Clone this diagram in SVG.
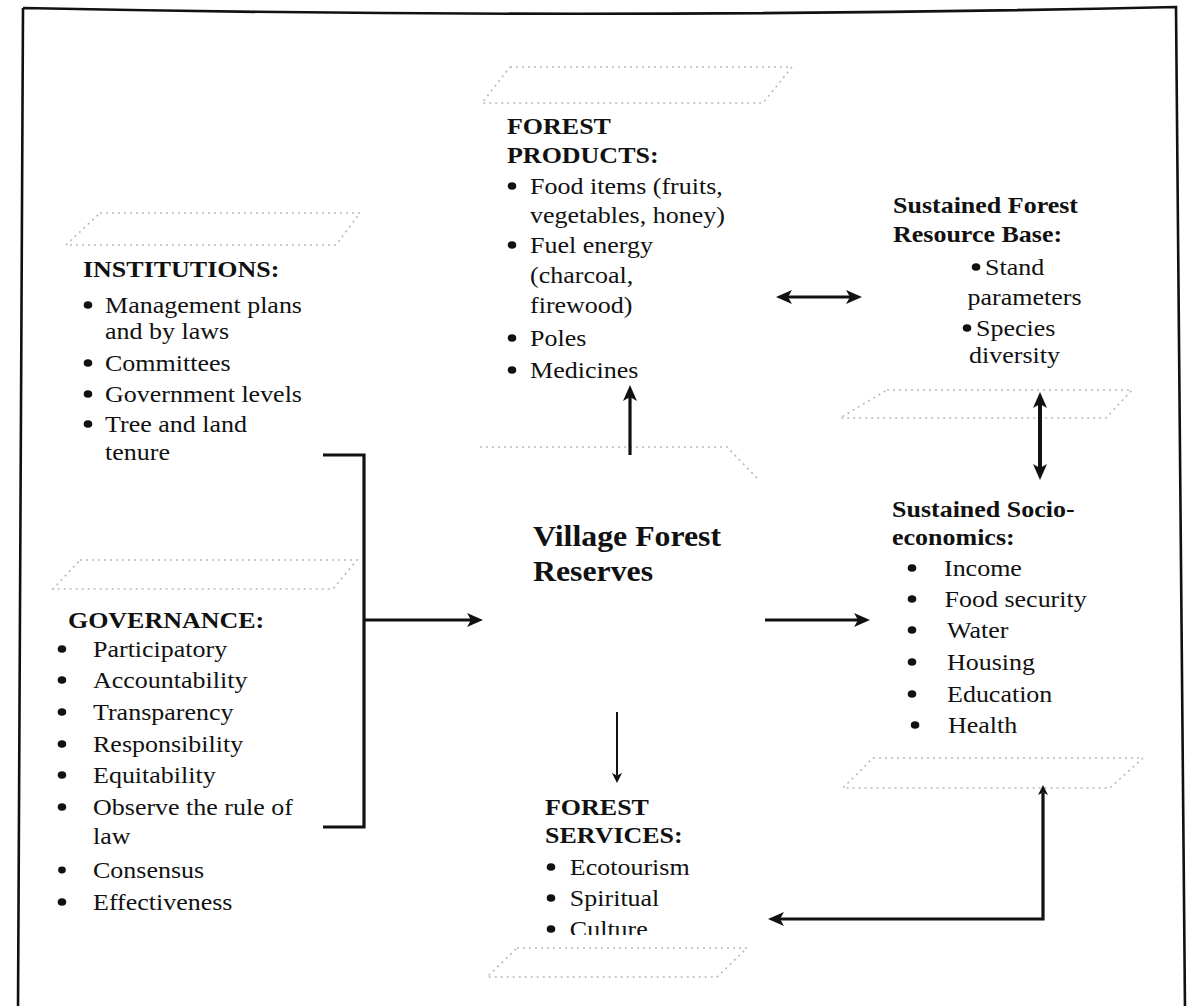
<svg xmlns="http://www.w3.org/2000/svg" width="1187" height="1006" viewBox="0 0 1187 1006">
<style>
.t{font-family:"Liberation Serif","Times New Roman",serif;font-size:23px;fill:#111}
.h{font-weight:bold}
.big{font-size:30px;font-weight:bold}
.b{fill:#111}
.conn{stroke:#111;fill:none;stroke-width:3.2}
.thin{stroke:#111;fill:none;stroke-width:2}
.faint{stroke:#9a9a9a;stroke-width:1.6;stroke-dasharray:2 4;fill:none;opacity:.7}
.frame{stroke:#111;stroke-width:2.6;fill:none}
</style>
<defs>
<marker id="ah" viewBox="0 0 16 14" refX="4" refY="7" markerWidth="16" markerHeight="14" markerUnits="userSpaceOnUse" orient="auto-start-reverse"><path d="M0,0 L16,7 L0,14 L4,7 Z" fill="#111"/></marker>
<marker id="ahs" viewBox="0 0 10 10" refX="2.5" refY="5" markerWidth="10" markerHeight="10" markerUnits="userSpaceOnUse" orient="auto-start-reverse"><path d="M0,0 L10,5 L0,10 L2.5,5 Z" fill="#111"/></marker>
<clipPath id="clipCult"><rect x="-20" y="890" width="300" height="45"/></clipPath>
</defs>
<rect width="1187" height="1006" fill="#fff"/>
<g id="frame"><path class="frame" d="M23,8 Q600,20 1176,7 L1185,1010 M23,8 L18,1010"/></g>
<g id="decor">
<path class="faint" d="M510,67 H792 L763,103 H482 Z"/>
<path class="faint" d="M100,213 H360 L336,245 H66 Z"/>
<path class="faint" d="M80,560 H357 L333,589 H53 Z"/>
<path class="faint" d="M480,447 H727 L757,478"/>
<path class="faint" d="M887,390 H1132 L1106,418 H840 Z"/>
<path class="faint" d="M873,758 H1143 L1110,788 H843 Z"/>
<path class="faint" d="M517,948 H747 L717,977 H487 Z"/>
</g>
<g id="connectors">
<path class="conn" d="M323,455 H364 V827 H323"/>
<path class="conn" d="M364,620 H471" marker-end="url(#ah)"/>
<path class="conn" d="M630,455 V397" marker-end="url(#ah)"/>
<path class="conn" d="M788,297 H850" marker-start="url(#ah)" marker-end="url(#ah)"/>
<path class="conn" style="stroke-width:4" d="M1040,404 V468" marker-start="url(#ah)" marker-end="url(#ah)"/>
<path class="conn" d="M765,620 H858" marker-end="url(#ah)"/>
<path class="thin" d="M617,712 V775.5" marker-end="url(#ahs)"/>
<path class="conn" d="M780,919 H1043 V792.5" marker-start="url(#ah)" marker-end="url(#ahs)"/>
</g>
<g id="institutions" class="t" transform="translate(83 0) scale(1.13 1)">
<text class="h" x="0" y="277">INSTITUTIONS:</text>
<circle class="b" cx="4.4" cy="305" r="3.8"/><text x="19.5" y="313">Management plans</text>
<text x="19.5" y="339">and by laws</text>
<circle class="b" cx="4.4" cy="363" r="3.8"/><text x="19.5" y="371">Committees</text>
<circle class="b" cx="4.4" cy="394" r="3.8"/><text x="19.5" y="402">Government levels</text>
<circle class="b" cx="4.4" cy="424" r="3.8"/><text x="19.5" y="432">Tree and land</text>
<text x="19.5" y="460">tenure</text>
</g>
<g id="governance" class="t" transform="translate(58 0) scale(1.13 1)">
<text class="h" x="8.8" y="628">GOVERNANCE:</text>
<circle class="b" cx="3.5" cy="649" r="3.8"/><text x="31" y="657">Participatory</text>
<circle class="b" cx="3.5" cy="680" r="3.8"/><text x="31" y="688">Accountability</text>
<circle class="b" cx="3.5" cy="712" r="3.8"/><text x="31" y="720">Transparency</text>
<circle class="b" cx="3.5" cy="744" r="3.8"/><text x="31" y="752">Responsibility</text>
<circle class="b" cx="3.5" cy="775" r="3.8"/><text x="31" y="783">Equitability</text>
<circle class="b" cx="3.5" cy="807" r="3.8"/><text x="31" y="815">Observe the rule of</text>
<text x="31" y="844">law</text>
<circle class="b" cx="3.5" cy="870" r="3.4"/><text x="31" y="878">Consensus</text>
<circle class="b" cx="3.5" cy="902" r="3.8"/><text x="31" y="910">Effectiveness</text>
</g>
<g id="products" class="t" transform="translate(507 0) scale(1.13 1)">
<text class="h" x="0" y="134">FOREST</text>
<text class="h" x="0" y="163">PRODUCTS:</text>
<circle class="b" cx="4.4" cy="186" r="3.8"/><text x="20.4" y="194">Food items (fruits,</text>
<text x="20.4" y="223">vegetables, honey)</text>
<circle class="b" cx="4.4" cy="245" r="3.8"/><text x="20.4" y="253">Fuel energy</text>
<text x="20.4" y="283">(charcoal,</text>
<text x="20.4" y="313">firewood)</text>
<circle class="b" cx="4.4" cy="338" r="3.8"/><text x="20.4" y="346">Poles</text>
<circle class="b" cx="4.4" cy="370" r="3.8"/><text x="20.4" y="378">Medicines</text>
</g>
<g id="resource-base" class="t" transform="translate(893 0) scale(1.13 1)">
<text class="h" x="0" y="213">Sustained Forest</text>
<text class="h" x="0" y="242">Resource Base:</text>
<circle class="b" cx="73.5" cy="267" r="3.8"/><text x="81.4" y="275">Stand</text>
<text x="66" y="305">parameters</text>
<circle class="b" cx="65.5" cy="328" r="3.8"/><text x="73.5" y="336">Species</text>
<text x="67.3" y="363">diversity</text>
</g>
<g id="socio-economics" class="t" transform="translate(892 0) scale(1.13 1)">
<text class="h" x="0" y="517">Sustained Socio-</text>
<text class="h" x="0" y="545">economics:</text>
<circle class="b" cx="17.7" cy="568" r="3.8"/><text x="46" y="576">Income</text>
<circle class="b" cx="17.7" cy="599" r="3.8"/><text x="46.5" y="607">Food security</text>
<circle class="b" cx="17.7" cy="630" r="3.8"/><text x="48.7" y="638">Water</text>
<circle class="b" cx="17.7" cy="662" r="3.8"/><text x="48.7" y="670">Housing</text>
<circle class="b" cx="17.7" cy="694" r="3.8"/><text x="48.7" y="702">Education</text>
<circle class="b" cx="20.4" cy="725" r="3.8"/><text x="49.6" y="733">Health</text>
</g>
<g id="village-forest-reserves" class="t" transform="translate(533 0) scale(1.06 1)">
<text class="big" x="0" y="546">Village Forest</text>
<text class="big" x="0" y="581">Reserves</text>
</g>
<g id="services" class="t" transform="translate(545 0) scale(1.13 1)">
<text class="h" x="0" y="815">FOREST</text>
<text class="h" x="0" y="843">SERVICES:</text>
<circle class="b" cx="5.3" cy="867" r="3.8"/><text x="22" y="875">Ecotourism</text>
<circle class="b" cx="5.3" cy="898" r="3.8"/><text x="22" y="906">Spiritual</text>
<g clip-path="url(#clipCult)"><circle class="b" cx="5.3" cy="929" r="3.8"/><text x="22" y="937">Culture</text></g>
</g>
</svg>
